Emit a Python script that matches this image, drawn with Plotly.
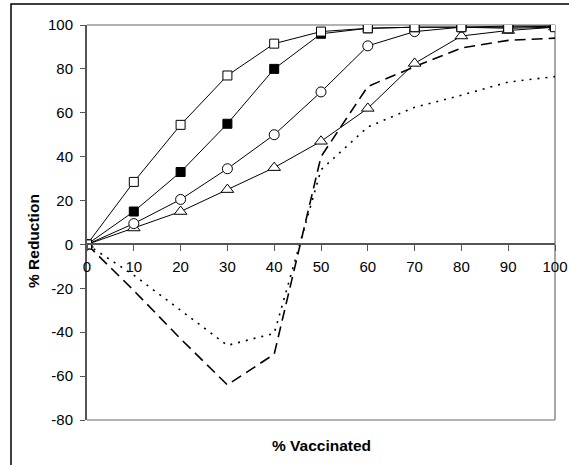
import plotly.graph_objects as go

x_vals = [0, 10, 20, 30, 40, 50, 60, 70, 80, 90, 100]
open_squares = [0, 28.5, 54.5, 77, 91.5, 97, 98.5, 99, 99, 98.5, 99]
filled_squares = [0, 15, 33, 55, 80, 96, 98.5, 99, 99, 99, 99.5]
open_circles = [0, 9.5, 20.5, 34.5, 50, 69.5, 90.5, 97, 99, 99.5, 99.5]
open_triangles = [0, 7.5, 15, 25, 35, 47, 62, 82.5, 95, 97.5, 99]
dashed_series = [0, -21, -43, -64, -50, 40, 72, 81, 89.5, 93, 94]
dotted_series = [0, -14, -30, -46, -40.5, 34, 53.5, 62.5, 68, 74, 76.5]

x_ticks = [0, 10, 20, 30, 40, 50, 60, 70, 80, 90, 100]
y_ticks = [-80, -60, -40, -20, 0, 20, 40, 60, 80, 100]

FONT = "Liberation Sans, Arial, sans-serif"

fig = go.Figure()

fig.add_trace(go.Scatter(x=x_vals, y=dashed_series, mode="lines",
                         line=dict(color="black", width=1.6, dash="11px,6px"),
                         showlegend=False))
fig.add_trace(go.Scatter(x=x_vals, y=dotted_series, mode="lines",
                         line=dict(color="black", width=1.6, dash="2px,6px"),
                         showlegend=False))
fig.add_trace(go.Scatter(x=x_vals, y=open_triangles, mode="lines+markers",
                         line=dict(color="black", width=1),
                         marker=dict(symbol="triangle-up", size=11, color="white",
                                     line=dict(color="black", width=1)),
                         showlegend=False))
fig.add_trace(go.Scatter(x=x_vals, y=open_circles, mode="lines+markers",
                         line=dict(color="black", width=1),
                         marker=dict(symbol="circle", size=10, color="white",
                                     line=dict(color="black", width=1)),
                         showlegend=False))
fig.add_trace(go.Scatter(x=x_vals, y=filled_squares, mode="lines+markers",
                         line=dict(color="black", width=1),
                         marker=dict(symbol="square", size=9, color="black",
                                     line=dict(color="black", width=1)),
                         showlegend=False))
fig.add_trace(go.Scatter(x=x_vals, y=open_squares, mode="lines+markers",
                         line=dict(color="black", width=1),
                         marker=dict(symbol="square", size=9, color="white",
                                     line=dict(color="black", width=1)),
                         showlegend=False))

fig.update_layout(
    width=569, height=465,
    margin=dict(l=87, r=14, t=25, b=45),
    paper_bgcolor="white", plot_bgcolor="white",
    font=dict(family=FONT, size=15, color="black"),
    xaxis=dict(range=[0, 100], tickvals=x_ticks, ticktext=[str(v) for v in x_ticks],
               anchor="free", position=80 / 180, automargin=False,
               showline=True, linecolor="#555555", linewidth=1.5,
               ticks="outside", ticklen=6, tickcolor="#555555", tickwidth=1,
               showgrid=False, zeroline=False, ticklabelstandoff=3,
               tickfont=dict(family=FONT, size=15, color="black")),
    yaxis=dict(range=[-80, 100], tickvals=y_ticks, ticktext=[str(v) for v in y_ticks],
               automargin=False,
               showline=True, linecolor="#555555", linewidth=2,
               ticks="outside", ticklen=5, tickcolor="#555555", tickwidth=1,
               showgrid=False, zeroline=False, ticklabelstandoff=4,
               tickfont=dict(family=FONT, size=15, color="black")),
    shapes=[
        dict(type="line", xref="paper", yref="paper", x0=0, x1=1, y0=1, y1=1,
             line=dict(color="#999999", width=1.5), layer="below"),
        dict(type="line", xref="paper", yref="paper", x0=1, x1=1, y0=0, y1=1,
             line=dict(color="#888888", width=1.5), layer="below"),
        dict(type="line", xref="paper", yref="paper", x0=0, x1=1, y0=0, y1=0,
             line=dict(color="#999999", width=1.5), layer="below"),
        dict(type="rect", xref="paper", yref="paper",
             x0=(11 - 87) / 468, x1=(575 - 87) / 468,
             y0=(420 - 470) / 395, y1=(420 - 4) / 395,
             line=dict(color="black", width=1.5), layer="below"),
    ],
    annotations=[
        dict(text="<b>% Vaccinated</b>", xref="paper", yref="paper",
             x=0.5, y=(420 - 446) / 395, showarrow=False,
             font=dict(family=FONT, size=15.5, color="black"),
             xanchor="center", yanchor="middle"),
        dict(text="<b>% Reduction</b>", xref="paper", yref="paper",
             x=(33 - 87) / 468, y=(420 - 241) / 395, showarrow=False,
             textangle=-90,
             font=dict(family=FONT, size=15.5, color="black"),
             xanchor="center", yanchor="middle"),
    ],
)

fig.write_html("out.html")
